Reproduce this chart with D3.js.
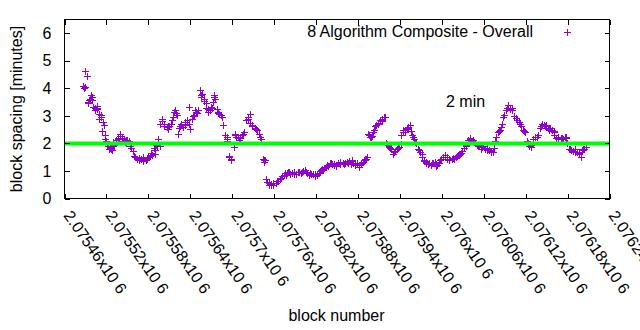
<!DOCTYPE html>
<html><head><meta charset="utf-8">
<script src="https://cdn.jsdelivr.net/npm/d3@7"></script>
<style>body{margin:0;background:#fff}svg{display:block}</style>
</head><body><svg id="c" width="640" height="330"></svg>
<script>
const seriesName = "8 Algorithm Composite - Overall";
const targetMinutes = 2;
const targetLabel = "2 min";
const xTitle = "block number";
const yTitle = "block spacing [minutes]";
const xTickValues = [2075460,2075520,2075580,2075640,2075700,2075760,2075820,2075880,2075940,2076000,2076060,2076120,2076180,2076240];
const xTickLabels = ["2.07546x10 6","2.07552x10 6","2.07558x10 6","2.07564x10 6","2.0757x10 6","2.07576x10 6","2.07582x10 6","2.07588x10 6","2.07594x10 6","2.076x10 6","2.07606x10 6","2.07612x10 6","2.07618x10 6","2.07624x10 6"];
const yTickValues = [0,1,2,3,4,5,6];

const blocks = [
2075486,2075489,2075492,2075495,2075498,2075501,2075504,2075507,2075510,2075513,
2075516,2075519,2075522,2075525,2075528,2075531,2075534,2075537,2075540,2075543,
2075546,2075549,2075552,2075555,2075558,2075561,2075564,2075567,2075570,2075573,
2075576,2075579,2075582,2075585,2075588,2075591,2075594,2075597,2075600,2075603,
2075606,2075609,2075612,2075615,2075618,2075621,2075624,2075627,2075630,2075633,
2075636,2075639,2075642,2075645,2075648,2075651,2075654,2075657,2075660,2075663,
2075666,2075669,2075672,2075675,2075678,2075681,2075684,2075687,2075690,2075693,
2075696,2075699,2075702,2075705,2075708,2075711,2075714,2075717,2075720,2075723,
2075726,2075729,2075732,2075735,2075738,2075741,2075744,2075747,2075750,2075753,
2075756,2075759,2075762,2075765,2075768,2075771,2075774,2075777,2075780,2075783,
2075786,2075789,2075792,2075795,2075798,2075801,2075804,2075807,2075810,2075813,
2075816,2075819,2075822,2075825,2075828,2075831,2075834,2075837,2075840,2075843,
2075846,2075849,2075852,2075855,2075858,2075861,2075864,2075867,2075870,2075873,
2075876,2075879,2075882,2075885,2075888,2075891,2075894,2075897,2075900,2075903,
2075906,2075909,2075912,2075915,2075918,2075921,2075924,2075927,2075930,2075933,
2075936,2075939,2075942,2075945,2075948,2075951,2075954,2075957,2075960,2075963,
2075966,2075969,2075972,2075975,2075978,2075981,2075984,2075987,2075990,2075993,
2075996,2075999,2076002,2076005,2076008,2076011,2076014,2076017,2076020,2076023,
2076026,2076029,2076032,2076035,2076038,2076041,2076044,2076047,2076050,2076053,
2076056,2076059,2076062,2076065,2076068,2076071,2076074,2076077,2076080,2076083,
2076086,2076089,2076092,2076095,2076098,2076101,2076104,2076107,2076110,2076113,
2076116,2076119,2076122,2076125,2076128,2076131,2076134,2076137,2076140,2076143,
2076146,2076149,2076152,2076155,2076158,2076161,2076164,2076167,2076170,2076173,
2076176,2076179,2076182,2076185,2076188,2076191,2076194,2076197,2076200,2076203,
2076206];
const minutes = [
4.08,4.05,4.44,3.57,3.75,3.33,3.20,3.25,3.06,2.45,
2.66,2.08,1.92,1.85,1.75,1.95,2.11,2.20,2.28,2.10,
2.05,2.14,2.08,1.85,1.72,1.50,1.42,1.40,1.45,1.50,
1.38,1.52,1.55,1.58,1.82,1.95,2.15,2.72,2.80,2.65,
2.60,2.65,2.72,2.95,3.23,3.02,2.55,2.70,2.60,2.78,
2.85,2.54,2.90,3.05,3.15,3.20,3.93,3.80,3.55,3.27,
3.25,3.33,3.50,3.63,3.25,3.08,3.05,2.66,2.29,2.10,
1.55,1.42,1.87,2.25,2.22,2.18,2.29,2.41,2.84,2.95,
2.75,2.62,2.55,2.48,2.36,2.17,1.45,1.40,0.60,0.50,
0.48,0.55,0.58,0.62,0.70,0.80,0.84,0.86,0.95,0.90,
0.94,0.96,0.88,0.95,0.94,1.00,1.02,0.92,0.86,0.88,
0.90,0.82,0.84,1.00,1.08,1.10,1.15,1.18,1.28,1.24,
1.26,1.20,1.28,1.26,1.28,1.30,1.32,1.35,1.26,1.30,
1.22,1.30,1.14,1.28,1.38,1.45,2.36,2.25,2.26,2.50,
2.68,2.75,2.85,2.90,2.95,1.99,1.88,1.78,1.63,1.72,
1.80,1.87,2.30,2.40,2.41,2.60,2.66,2.30,2.15,2.00,
1.80,1.69,1.50,1.35,1.28,1.30,1.20,1.30,1.32,1.22,
1.28,1.42,1.50,1.57,1.45,1.38,1.45,1.45,1.52,1.58,
1.60,1.72,1.85,1.95,2.12,2.15,2.11,2.00,1.95,1.90,
1.81,1.90,1.80,1.75,1.75,1.72,1.85,2.23,2.40,2.48,
2.72,3.02,3.20,3.39,3.25,3.20,3.00,2.85,2.78,2.65,
2.50,2.41,2.10,1.92,1.95,2.17,2.25,2.30,2.55,2.72,
2.68,2.66,2.55,2.55,2.50,2.30,2.18,2.17,2.20,2.15,
2.25,2.00,1.81,1.75,1.72,1.81,1.70,1.60,1.75,1.80,
1.87];

const extraBlocks = [
2075487,2075490,2075493,2075497,2075500,2075503,2075506,2075509,2075512,2075515,
2075518,2075521,2075527,2075530,2075539,2075545,2075548,2075560,2075566,2075572,
2075578,2075590,2075593,2075599,2075608,2075617,2075623,2075632,2075638,2075647,
2075656,2075659,2075665,2075671,2075674,2075680,2075692,2075695,2075698,2075704,
2075722,2075725,2075746,2075749,2075755,2075779,2075800,2075827,2075845,2075854,
2075872,2075881,2075887,2075890,2075893,2075899,2075905,2075917,2075923,2075941,
2075944,2075950,2075959,2075971,2075977,2075992,2076007,2076025,2076043,2076064,
2076073,2076085,2076094,2076100,2076112,2076124,2076127,2076142,2076154,2076160,
2076172,2076178,2076184,2076196,2076199];
const extraMinutes = [
4.10,4.62,3.47,3.62,3.68,3.28,3.30,2.87,3.02,2.78,
2.15,1.99,1.80,2.05,2.36,2.17,2.12,1.55,1.38,1.40,
1.42,1.63,1.92,2.87,2.54,3.15,2.36,2.72,3.33,3.20,
3.75,3.63,3.14,3.30,3.75,3.12,2.17,1.50,1.38,2.36,
2.90,3.08,1.32,0.72,0.54,0.92,0.98,1.05,1.20,1.30,
1.36,1.20,1.32,1.42,1.50,2.22,2.65,2.95,1.95,1.98,
2.48,2.55,2.23,1.60,1.32,1.25,1.52,1.57,2.10,1.78,
1.69,2.60,3.30,3.27,2.70,2.00,1.87,2.65,2.48,2.41,
2.17,2.23,1.78,1.69,1.50];

const scatterBlocks = [
2075488,2075494,2075500,2075506,2075512,2075518,2075524,2075530,2075536,2075542,
2075548,2075554,2075560,2075566,2075572,2075578,2075584,2075590,2075596,2075602,
2075608,2075614,2075620,2075626,2075632,2075638,2075644,2075650,2075656,2075662,
2075668,2075674,2075680,2075686,2075692,2075698,2075704,2075710,2075716,2075722,
2075728,2075734,2075740,2075746,2075752,2075758,2075764,2075770,2075776,2075782,
2075788,2075794,2075800,2075806,2075812,2075818,2075824,2075830,2075836,2075842,
2075848,2075854,2075860,2075866,2075872,2075878,2075884,2075890,2075896,2075902,
2075908,2075914,2075920,2075926,2075932,2075938,2075944,2075950,2075956,2075962,
2075968,2075974,2075980,2075986,2075992,2075998,2076004,2076010,2076016,2076022,
2076028,2076034,2076040,2076046,2076052,2076058,2076064,2076070,2076076,2076082,
2076088,2076094,2076100,2076106,2076112,2076118,2076124,2076130,2076136,2076142,
2076148,2076154,2076160,2076166,2076172,2076178,2076184,2076190,2076196,2076202];
const scatterMinutes = [
4.02,3.50,3.58,3.35,2.95,2.30,1.80,1.90,2.15,2.18,
2.02,1.92,1.55,1.48,1.35,1.48,1.65,1.75,1.92,2.70,
2.62,2.85,3.12,2.62,2.68,2.72,2.98,3.10,3.68,3.45,
3.22,3.68,3.15,2.95,2.22,1.45,2.30,2.12,2.35,2.88,
2.68,2.52,2.25,1.38,0.58,0.50,0.65,0.76,0.92,0.98,
0.90,0.98,0.96,0.98,0.92,0.88,0.92,1.05,1.20,1.28,
1.18,1.32,1.25,1.30,1.38,1.26,1.25,1.40,2.30,2.42,
2.70,2.82,2.02,1.82,1.68,1.82,2.42,2.52,2.45,2.05,
1.75,1.40,1.25,1.28,1.18,1.38,1.52,1.42,1.48,1.55,
1.66,1.90,2.20,2.06,1.96,1.86,1.82,1.70,2.10,2.45,
2.95,3.28,3.22,2.92,2.72,2.45,2.02,2.00,2.22,2.62,
2.62,2.52,2.45,2.22,2.18,2.20,1.78,1.70,1.65,1.78];

const FONT = '"Liberation Sans", Arial, sans-serif';
const purple = "#9400d3";
const svg = d3.select("#c");
const x = d3.scaleLinear().domain([2075460, 2076240]).range([64.5, 609.5]);
const y = d3.scaleLinear().domain([0, 6.5]).range([198.5, 19.5]);

const pts = blocks.map((b,i)=>({b, v:minutes[i]}))
  .concat(extraBlocks.map((b,i)=>({b, v:extraMinutes[i]})))
  .concat(scatterBlocks.map((b,i)=>({b, v:scatterMinutes[i]})));

function plus(cx, cy, s){ return `M${cx-s},${cy}H${cx+s}M${cx},${cy-s}V${cy+s}`; }

// points
svg.append("g").selectAll("path").data(pts).join("path")
  .attr("d", d => plus(Math.round(x(d.b))+0.5, Math.round(y(d.v))+0.5, 3.5))
  .attr("stroke", purple).attr("stroke-width", 1).attr("fill","none")
  .attr("shape-rendering","crispEdges");

// target line
svg.append("line")
  .attr("x1", x.range()[0]).attr("x2", x.range()[1])
  .attr("y1", y(targetMinutes)).attr("y2", y(targetMinutes))
  .attr("stroke", "#00ff00").attr("stroke-width", 4);

// axes
function styleAxis(g){
  g.attr("font-size", 16).attr("font-family", FONT).attr("color", "#000");
  g.select(".domain").remove();
  g.selectAll(".tick line").attr("stroke-width",1).attr("shape-rendering","crispEdges");
}
const xb = svg.append("g").attr("transform","translate(0,198.5)")
  .call(d3.axisBottom(x).tickValues(xTickValues).tickFormat((d,i)=>xTickLabels[i]).tickSize(-5));
styleAxis(xb);
xb.selectAll(".tick text").attr("x",0).attr("y",0).attr("dy",0)
  .attr("text-anchor","start").attr("transform","translate(-2,17) rotate(55)");
const xt = svg.append("g").attr("transform","translate(0,19.5)")
  .call(d3.axisTop(x).tickValues(xTickValues).tickFormat("").tickSize(-5));
styleAxis(xt);
const yl = svg.append("g").attr("transform","translate(64.5,0)")
  .call(d3.axisLeft(y).tickValues(yTickValues).tickFormat(d3.format("d")).tickSize(-5).tickPadding(13));
styleAxis(yl);
const yr = svg.append("g").attr("transform","translate(609.5,0)")
  .call(d3.axisRight(y).tickValues(yTickValues).tickFormat("").tickSize(-5));
styleAxis(yr);

// border
svg.append("rect").attr("x",64.5).attr("y",19.5).attr("width",545).attr("height",179)
  .attr("fill","none").attr("stroke","#000").attr("stroke-width",1);

// titles
svg.append("text").attr("x", 336.5).attr("y", 321).attr("text-anchor","middle")
  .attr("font-family", FONT).attr("font-size", 16).text(xTitle);
svg.append("text").attr("transform","translate(22,109) rotate(-90)").attr("text-anchor","middle")
  .attr("font-family", FONT).attr("font-size", 16).text(yTitle);

// target label
svg.append("text").attr("x", 446).attr("y", 107).attr("font-family", FONT).attr("font-size", 16).text(targetLabel);

// legend
svg.append("text").attr("x", 533).attr("y", 37).attr("text-anchor","end")
  .attr("font-family", FONT).attr("font-size", 16).text(seriesName);
svg.append("path").attr("d", plus(567.5, 32.5, 3.5)).attr("stroke", purple).attr("fill","none")
  .attr("shape-rendering","crispEdges");
</script></body></html>
